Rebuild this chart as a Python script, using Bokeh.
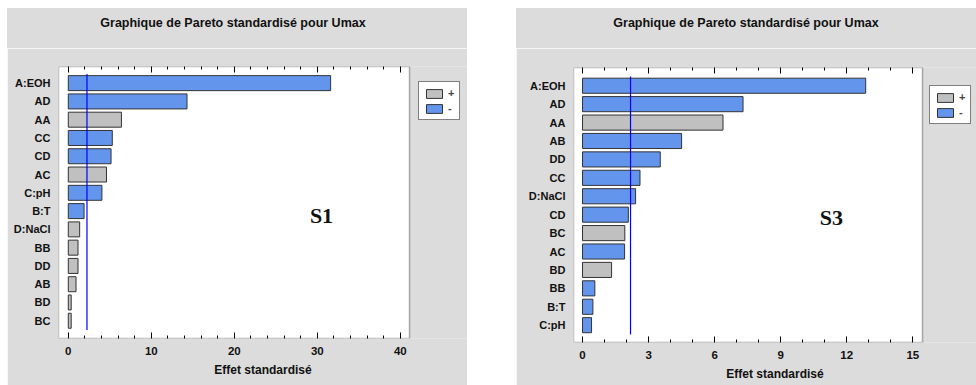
from bokeh.plotting import figure
from bokeh.models import (Range1d, FixedTicker, LinearAxis, BoxAnnotation, Div,
                          Legend, LegendItem, Label, ColumnDataSource, Spacer)
from bokeh.layouts import row, column
from bokeh.embed import file_html
from bokeh.resources import INLINE

# ---------------- data ----------------
title_text = "Graphique de Pareto standardisé pour Umax"
x_label = "Effet standardisé"

cats_s1 = ["A:EOH", "AD", "AA", "CC", "CD", "AC", "C:pH", "B:T", "D:NaCl", "BB", "DD", "AB", "BD", "BC"]
eff_s1 = [31.6, 14.3, 6.4, 5.3, 5.15, 4.6, 4.05, 1.9, 1.37, 1.17, 1.17, 0.93, 0.35, 0.35]
sign_s1 = ["-", "-", "+", "-", "-", "+", "-", "-", "+", "+", "+", "+", "+", "+"]
crit_s1 = 2.25
ticks_s1 = [0, 10, 20, 30, 40]
minor_step_s1 = 2

cats_s3 = ["A:EOH", "AD", "AA", "AB", "DD", "CC", "D:NaCl", "CD", "BC", "AC", "BD", "BB", "B:T", "C:pH"]
eff_s3 = [12.86, 7.29, 6.38, 4.5, 3.53, 2.61, 2.41, 2.08, 1.92, 1.91, 1.32, 0.56, 0.47, 0.41]
sign_s3 = ["-", "-", "+", "-", "-", "-", "-", "-", "+", "-", "+", "-", "-", "-"]
crit_s3 = 2.18
ticks_s3 = [0, 3, 6, 9, 12, 15]
minor_step_s3 = 1

legend_labels = ["+", "-"]
sign_colors = {"+": "#C0C0C0", "-": "#6495ED"}

SANS = "Liberation Sans"
SERIF = "Liberation Serif"
BG = "#DCDCDC"
TITLE_H = 40


def make_title(w, indent):
    return Div(text=title_text, width=w, height=TITLE_H, margin=0,
               styles={"background-color": BG, "text-align": "center",
                       "font-family": SANS, "font-weight": "bold",
                       "font-size": "12.5px", "color": "#111111",
                       "line-height": "30px", "text-indent": f"{indent}px",
                       "white-space": "nowrap", "overflow": "hidden"})


def make_panel(cats, eff, sign, crit, ticks, minor_step, tag, tag_xy,
               xlim, ylim, w, h, box_px, leg_loc):
    # box_px = (left border, box width, top border, bottom border) in pixels
    n = len(cats)
    ypos = [n - i for i in range(n)]
    src = ColumnDataSource(dict(y=ypos, v=eff, c=[sign_colors[s] for s in sign],
                                s=sign, cat=cats))
    bl, bw, bt, bb = box_px
    scale = bw / (xlim[1] - xlim[0])
    right_px = w - bl - bw
    x_end = xlim[1] + right_px / scale
    p = figure(width=w, height=h, output_backend="svg", toolbar_location=None,
               title=None, margin=0,
               x_range=Range1d(xlim[0], x_end), y_range=Range1d(*ylim),
               min_border_left=bl, min_border_right=0,
               min_border_top=bt, min_border_bottom=bb)
    p.border_fill_color = BG
    p.background_fill_color = BG
    p.outline_line_color = None
    p.grid.visible = False

    # white plotting box with black frame
    p.add_layout(BoxAnnotation(left=xlim[0], right=xlim[1], bottom=ylim[0], top=ylim[1],
                               fill_color="white", fill_alpha=1, line_color="black",
                               line_width=1.5, level="underlay"))

    r = p.hbar(y="y", left=0, right="v", height=0.82, source=src,
               fill_color="c", line_color="#333333", line_width=1)

    p.segment(x0=[crit], x1=[crit], y0=[0.5], y1=[n + 0.5],
              line_color="#0000FF", line_width=1.2)

    minors = [m for m in range(ticks[0], ticks[-1] + 1, minor_step) if m not in ticks]

    # x axis (bottom)
    xa = p.xaxis[0]
    xa.ticker = FixedTicker(ticks=ticks, minor_ticks=minors)
    xa.axis_line_color = None
    xa.major_tick_in = 6
    xa.major_tick_out = 0
    xa.minor_tick_in = 3
    xa.minor_tick_out = 0
    xa.major_label_text_font = SANS
    xa.major_label_text_font_style = "bold"
    xa.major_label_text_font_size = "11.5px"
    xa.major_label_text_color = "#111111"
    xa.major_label_standoff = 8
    xa.axis_label = x_label
    xa.axis_label_text_font = SANS
    xa.axis_label_text_font_style = "bold"
    xa.axis_label_text_font_size = "12px"
    xa.axis_label_text_color = "#111111"
    xa.axis_label_standoff = 5

    # top axis (ticks only, labels not drawn)
    ta = LinearAxis(ticker=FixedTicker(ticks=ticks, minor_ticks=minors))
    ta.axis_line_color = None
    ta.major_tick_in = 6
    ta.major_tick_out = 0
    ta.minor_tick_in = 3
    ta.minor_tick_out = 0
    ta.major_label_text_font_size = "0px"
    ta.major_label_text_color = None
    ta.major_label_standoff = 0
    p.add_layout(ta, "above")

    # y axis (categories)
    ya = p.yaxis[0]
    ya.ticker = FixedTicker(ticks=ypos)
    ya.major_label_overrides = {yy: c for yy, c in zip(ypos, cats)}
    ya.axis_line_color = None
    ya.major_tick_line_color = None
    ya.minor_tick_line_color = None
    ya.major_tick_out = 0
    ya.major_tick_in = 0
    ya.major_label_standoff = 8
    ya.major_label_text_font = SANS
    ya.major_label_text_font_style = "bold"
    ya.major_label_text_font_size = "11px"
    ya.major_label_text_color = "#111111"

    # legend (inside the extended frame, right of the white box)
    idx_plus = sign.index("+")
    idx_minus = sign.index("-")
    legend = Legend(items=[LegendItem(label=legend_labels[0], renderers=[r], index=idx_plus),
                           LegendItem(label=legend_labels[1], renderers=[r], index=idx_minus)],
                    location=leg_loc)
    legend.margin = 0
    legend.padding = 5
    legend.spacing = 3
    legend.glyph_width = 20
    legend.glyph_height = 11
    legend.label_width = 6
    legend.label_height = 11
    legend.label_standoff = 4
    legend.label_text_font = SANS
    legend.label_text_font_style = "bold"
    legend.label_text_font_size = "11px"
    legend.border_line_color = "black"
    legend.border_line_width = 1
    legend.background_fill_color = "white"
    legend.background_fill_alpha = 1
    p.add_layout(legend, "center")

    p.add_layout(Label(x=tag_xy[0], y=tag_xy[1], text=tag, text_font=SERIF,
                       text_font_style="bold", text_font_size="22px",
                       text_align="center", text_baseline="middle", text_color="#111111"))
    return p


p1 = make_panel(cats_s1, eff_s1, sign_s1, crit_s1, ticks_s1, minor_step_s1, "S1", (30.5, 6.76),
                (-1.18, 41.1), (0.03, 14.91), 460, 377 - TITLE_H, (51, 351, 58 - TITLE_H, 47), (360, 218))
p3 = make_panel(cats_s3, eff_s3, sign_s3, crit_s3, ticks_s3, minor_step_s3, "S3", (11.3, 6.84),
                (-0.41, 15.44), (0.06, 14.99), 460, 377 - TITLE_H, (57, 349, 59 - TITLE_H, 43), (356, 218))

layout = column(Spacer(width=10, height=8, margin=0),
                row(Spacer(width=7, height=10, margin=0),
                    column(make_title(460, -8), p1, margin=0, spacing=0),
                    Spacer(width=49, height=10, margin=0),
                    column(make_title(460, 0), p3, margin=0, spacing=0),
                    margin=0, spacing=0),
                margin=0, spacing=0)

open("out.html", "w").write(file_html(layout, INLINE))
